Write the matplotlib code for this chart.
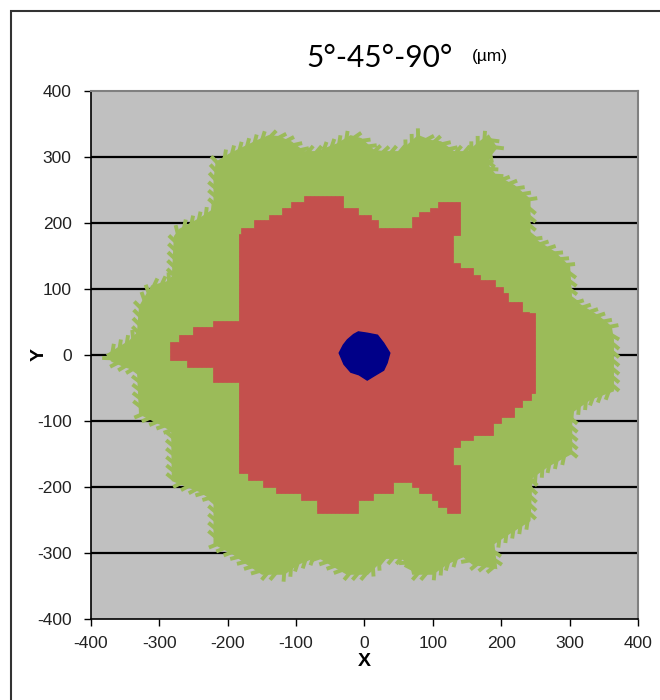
import matplotlib
matplotlib.use("Agg")
import matplotlib.pyplot as plt
from matplotlib.patches import Polygon, Rectangle
from matplotlib import patheffects

plt.rcParams["axes.unicode_minus"] = False

# outer zone (green), traced clockwise from the left tip
green_x = [-374, -361, -342, -330, -327, -310, -288, -279, -276, -269, -240, -218,
           -218, -215, -196, -174, -156, -140, -127, -108, -89, -69, -39, -20,
           -6, 13, 28, 53, 79, 96, 111, 130, 152, 169, 181, 191, 180, 180,
           191, 218, 240, 240, 253, 276, 298, 301, 340, 359, 362, 362, 330,
           301, 301, 267, 243, 240, 209, 187, 191, 159, 145, 121, 99, 72, 70,
           56, 28, 4, -25, -50, -69, -98, -118, -149, -171, -191, -218, -218,
           -240, -279, -280, -298, -327, -330, -352, -368]
green_y = [0, 8, 20, 33, 73, 103, 109, 118, 179, 189, 205, 220,
           265, 291, 303, 314, 323, 330, 329, 321, 306, 306, 318, 330,
           326, 308, 306, 306, 330, 323, 321, 306, 306, 321, 330, 314, 300, 285,
           270, 255, 235, 182, 170, 155, 133, 83, 58, 42, 23, -53, -65,
           -86, -148, -167, -185, -250, -270, -285, -321, -315, -303, -314, -330, -330, -321,
           -306, -306, -330, -330, -315, -303, -315, -330, -330, -315, -300, -285, -220,
           -205, -189, -114, -103, -88, -23, -15, -8]

# middle zone (red), corners of the cell grid
red_x = [-70, -31, -31, -10, 9, 20, 41, 70, 70, 79, 96, 108, 108, 140, 140, 130,
         130, 140, 158, 169, 191, 202, 210, 231, 240, 250, 250, 243, 231, 218,
         199, 188, 159, 140, 130, 130, 140, 140, 121, 108, 99, 79, 70, 41, 12,
         -10, -10, -31, -69, -93, -130, -149, -171, -183, -183, -221, -259,
         -284, -284, -272, -251, -221, -183, -181, -162, -140, -120, -108, -89]
red_y = [241, 241, 235, 223, 212, 205, 192, 192, 205, 209, 217, 223, 232, 232, 182, 182,
         144, 139, 132, 121, 114, 103, 94, 80, 65, 64, -58, -58, -68, -79,
         -94, -103, -121, -129, -139, -167, -167, -239, -239, -230, -220, -209, -200, -192, -209,
         -220, -230, -239, -239, -220, -209, -200, -189, -179, -50, -41, -18,
         -8, 12, 20, 30, 42, 52, 183, 192, 205, 212, 223, 232]

# inner core (blue)
blue_x = [-37, -31, -25, -16, -9, 4, 19, 28, 37, 33, 28, 15, 4, -8, -20, -30]
blue_y = [3, 15, 23, 31, 35, 33, 30, 18, 3, -12, -23, -31, -38, -30, -26, -14]

grid_levels = [-300, -200, -100, 0, 100, 200, 300]
ticks = [-400, -300, -200, -100, 0, 100, 200, 300, 400]


def staircase(xs, ys):
    # the red cells sit on a square grid, so the outline runs in steps
    pts = []
    n = len(xs)
    for i in range(n):
        x1, y1 = xs[i], ys[i]
        x2, y2 = xs[(i + 1) % n], ys[(i + 1) % n]
        pts.append((x1, y1))
        if x1 != x2 and y1 != y2:
            pts.append((x1, y2))
    return pts


fig = plt.figure(figsize=(6.6, 7.0), dpi=100)
fig.patch.set_facecolor("white")
ax = fig.add_axes([91 / 660, 1 - 619 / 700, 547 / 660, 528 / 700])
ax.set_facecolor("#C0C0C0")

for g in grid_levels:
    ax.axhline(g, color="black", lw=1.6, zorder=1)

# outer zone with a serrated rim
green_patch = Polygon(list(zip(green_x, green_y)), closed=True,
                      facecolor="#9BBB59", edgecolor="#9BBB59", lw=2.8, zorder=2)
green_patch.set_path_effects([patheffects.withTickedStroke(spacing=6, angle=50, length=1.1)])
ax.add_patch(green_patch)

plt.rcParams["hatch.linewidth"] = 0.35
plt.rcParams["hatch.color"] = "#B0433F"
ax.add_patch(Polygon(staircase(red_x, red_y), closed=True,
                     facecolor="#C4504D", edgecolor="#C4504D", lw=0.5,
                     hatch="++++", zorder=3))
ax.add_patch(Polygon(list(zip(blue_x, blue_y)), closed=True,
                     facecolor="#000088", edgecolor="#000088", lw=1.0, zorder=4))

ax.set_xlim(-400, 400)
ax.set_ylim(-400, 400)
ax.set_xticks(ticks)
ax.set_yticks(ticks)
ax.tick_params(direction="out", length=5, width=1, colors="black", labelsize=12.5)
ax.tick_params(axis="x", pad=7)
ax.tick_params(axis="y", pad=9)
for lab in ax.get_xticklabels() + ax.get_yticklabels():
    lab.set_fontfamily("Liberation Sans")
    lab.set_color("#222222")

for side in ("left", "bottom"):
    ax.spines[side].set_color("black")
    ax.spines[side].set_linewidth(1.2)
for side in ("top", "right"):
    ax.spines[side].set_color("#808080")
    ax.spines[side].set_linewidth(1.5)

ax.set_xlabel("X", fontsize=14, fontweight="bold", family="Liberation Sans")
ax.set_ylabel("Y", fontsize=14, fontweight="bold", family="Liberation Sans")
ax.xaxis.set_label_coords(0.5, -0.064)
ax.yaxis.set_label_coords(-0.079, 0.5)

fig.text(380 / 660, 1 - 58 / 700, "5°-45°-90°", fontsize=21.5, family="Lato",
         ha="center", va="center")
fig.text(490 / 660, 1 - 56 / 700, "(µm)", fontsize=12.5, family="Liberation Sans",
         ha="center", va="center")

# outer frame of the chart
fig.add_artist(Rectangle((11 / 660, -0.01), 1.0, 1 - 11 / 700 + 0.01,
                         transform=fig.transFigure, fill=False,
                         edgecolor="#333333", lw=1.5))

fig.savefig("out.png", dpi=100)
